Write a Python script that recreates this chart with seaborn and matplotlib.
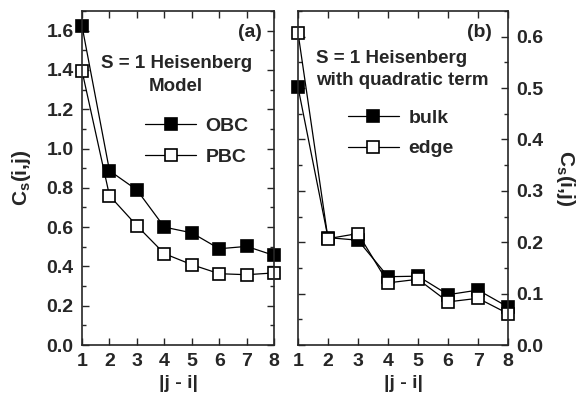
import numpy as np
import pandas as pd
import seaborn as sns
import matplotlib
matplotlib.use('Agg')
import matplotlib.pyplot as plt
from matplotlib.ticker import MultipleLocator

# data
dist = [1, 2, 3, 4, 5, 6, 7, 8]
obc = [1.622, 0.887, 0.789, 0.600, 0.571, 0.490, 0.502, 0.456]
pbc = [1.394, 0.760, 0.607, 0.465, 0.409, 0.363, 0.358, 0.367]
bulk = [0.502, 0.209, 0.204, 0.133, 0.134, 0.098, 0.107, 0.074]
edge = [0.608, 0.207, 0.217, 0.121, 0.128, 0.084, 0.091, 0.061]

sns.set_style('ticks')
plt.rcParams['font.family'] = ['Liberation Sans', 'DejaVu Sans']
plt.rcParams['font.weight'] = 'bold'
plt.rcParams['axes.labelweight'] = 'bold'
plt.rcParams['mathtext.fontset'] = 'custom'
plt.rcParams['mathtext.bf'] = 'Liberation Sans:bold'
plt.rcParams['mathtext.rm'] = 'Liberation Sans:bold'

fig = plt.figure(figsize=(5.82, 4.05), dpi=100)
ax1 = fig.add_axes([0.141, 0.148, 0.330, 0.825])
ax2 = fig.add_axes([0.512, 0.148, 0.361, 0.825])

df_a = pd.DataFrame({'d': dist, 'OBC': obc, 'PBC': pbc})
df_b = pd.DataFrame({'d': dist, 'bulk': bulk, 'edge': edge})

common = dict(color='black', lw=0.9, marker='s', ms=9, mec='black', mew=1.2, clip_on=False)

sns.lineplot(data=df_a, x='d', y='OBC', ax=ax1, label='OBC', mfc='black', **common)
sns.lineplot(data=df_a, x='d', y='PBC', ax=ax1, label='PBC', mfc='white', **common)
sns.lineplot(data=df_b, x='d', y='bulk', ax=ax2, label='bulk', mfc='black', **common)
sns.lineplot(data=df_b, x='d', y='edge', ax=ax2, label='edge', mfc='white', **common)

for ax in (ax1, ax2):
    ax.set_xlim(1, 8)
    ax.set_xticks(dist)
    ax.set_xlabel('|j - i|', fontsize=14, labelpad=3)
    ax.tick_params(which='both', direction='in', top=True, right=True, left=True,
                   labelsize=14, width=1)
    ax.tick_params(which='major', length=5, pad=6)
    ax.tick_params(which='minor', length=3)
    for s in ax.spines.values():
        s.set_linewidth(1.2)

ax1.set_ylim(0, 1.7)
ax1.yaxis.set_major_locator(MultipleLocator(0.2))
ax1.yaxis.set_minor_locator(MultipleLocator(0.1))
ax1.set_ylabel(r'C$_{\mathbf{s}}$(i,j)', fontsize=15, labelpad=10)

ax2.set_ylim(0, 0.65)
ax2.yaxis.set_major_locator(MultipleLocator(0.1))
ax2.yaxis.set_minor_locator(MultipleLocator(0.05))
ax2.tick_params(which='both', labelleft=False, labelright=True)
ax2.yaxis.set_label_position('right')
ax2.set_ylabel(r'C$_{\mathbf{s}}$(i,j)', fontsize=15, rotation=-90, labelpad=24)

ax1.text(0.9375, 0.934, '(a)', transform=ax1.transAxes, ha='right', va='center', fontsize=14)
ax1.text(0.49, 0.808, 'S = 1 Heisenberg\nModel', transform=ax1.transAxes, ha='center',
         va='center', fontsize=13.5, linespacing=1.45)
ax2.text(0.086, 0.825, 'S = 1 Heisenberg\nwith quadratic term', transform=ax2.transAxes,
         ha='left', va='center', fontsize=13.5, linespacing=1.4)
ax2.text(0.924, 0.934, '(b)', transform=ax2.transAxes, ha='right', va='center', fontsize=14)

leg_kw = dict(frameon=False, fontsize=14, handlelength=2.6, handletextpad=0.5,
              labelspacing=0.65, borderaxespad=0, borderpad=0, loc='center left')
ax1.legend(bbox_to_anchor=(0.33, 0.609), **leg_kw)
ax2.legend(bbox_to_anchor=(0.238, 0.633), **leg_kw)

fig.savefig('out.png', dpi=100)
